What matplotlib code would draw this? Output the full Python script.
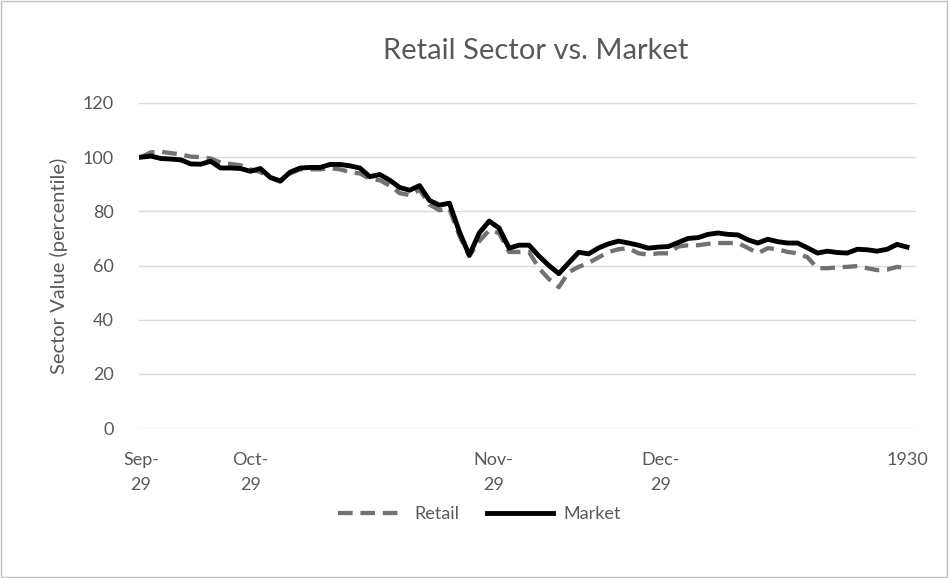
import numpy as np
import matplotlib.pyplot as plt
from matplotlib.patches import Rectangle

plt.rcParams['font.family'] = ['Lato', 'DejaVu Sans']

# Values (index = trading-day position)
retail = [100, 101.8, 102, 101.5, 101, 100.2, 100, 99.5, 98, 97.5,
          97, 95.5, 94.5, 92.5, 91, 94, 95.5, 95.5, 95.5, 95.9,
          95.5, 94.5, 94, 92, 91.5, 89.5, 86.7, 86, 88, 82.5,
          80.4, 81, 71, 63.5, 69, 73, 72, 65, 65, 65,
          59, 55, 52, 57.6, 59.5, 61, 63, 65, 66, 66.4,
          64.5, 64, 64.5, 64.5, 67, 67.5, 67.5, 68, 68.3, 68.3,
          68.3, 66.5, 64.5, 66.4, 66, 65, 64.5, 63, 59, 59,
          59.3, 59.5, 59.8, 59, 58.3, 58.5, 59.5, 59]
market = [100, 100.4, 99.5, 99.3, 99, 97.5, 97.4, 98.5, 96, 96,
          95.8, 94.8, 95.8, 92.5, 91.2, 94.5, 96, 96.2, 96.2, 97.3,
          97.3, 96.8, 96, 92.8, 93.6, 91.5, 88.8, 87.8, 89.5, 84,
          82.3, 83, 72.5, 63.8, 72, 76.4, 73.8, 66.4, 67.5, 67.5,
          63.5, 60, 57, 61, 64.9, 64.3, 66.5, 68, 69, 68.3,
          67.5, 66.4, 66.8, 67, 68.5, 70, 70.3, 71.5, 72, 71.5,
          71.3, 69.5, 68.3, 69.7, 68.8, 68.3, 68.3, 66.5, 64.6, 65.3,
          64.8, 64.6, 66, 65.8, 65.3, 66, 67.8, 66.8]
tick_pos = [0, 11, 35.4, 52.2, 77]
tick_labels = ['Sep-\n29', 'Oct-\n29', 'Nov-\n29', 'Dec-\n29', '1930']

x = np.arange(len(market))
txt = '#595959'

fig = plt.figure(figsize=(9.49, 5.78), dpi=100)
ax = fig.add_axes([0.1465, 0.2595, 0.8187, 0.5623])

ax.plot(x, retail, color='#767171', lw=3.1, dashes=(3.4, 1.8), label='Retail', zorder=2)
ax.plot(x, market, color='black', lw=3.5, label='Market', zorder=3)

ax.set_ylim(0, 120)
ax.set_yticks(range(0, 121, 20))
ax.set_xlim(-0.2, 77.9)
ax.set_xticks(tick_pos)
ax.set_xticklabels(tick_labels, multialignment='center', linespacing=1.75)
ax.grid(axis='y', color='#d9d9d9', lw=1)
ax.set_axisbelow(True)
for s in ax.spines.values():
    s.set_visible(False)
ax.tick_params(length=0, labelsize=13, colors=txt)
ax.tick_params(axis='y', pad=18)
ax.tick_params(axis='x', pad=17)
ax.set_ylabel('Sector Value (percentile)', fontsize=14.5, color=txt, labelpad=11)

fig.text(0.564, 0.912, 'Retail Sector vs. Market', fontsize=21, color=txt,
         ha='center', va='center')

fig.legend(loc='center', bbox_to_anchor=(0.505, 0.11), ncol=2, frameon=False,
           fontsize=13, handlelength=3.7, handletextpad=0.55, columnspacing=1.5,
           labelcolor=txt)

fig.patches.append(Rectangle((0.001, 0.001), 0.997, 0.997, transform=fig.transFigure,
                             fill=False, edgecolor='#bfbfbf', lw=1))

fig.savefig('out.png', dpi=100)
